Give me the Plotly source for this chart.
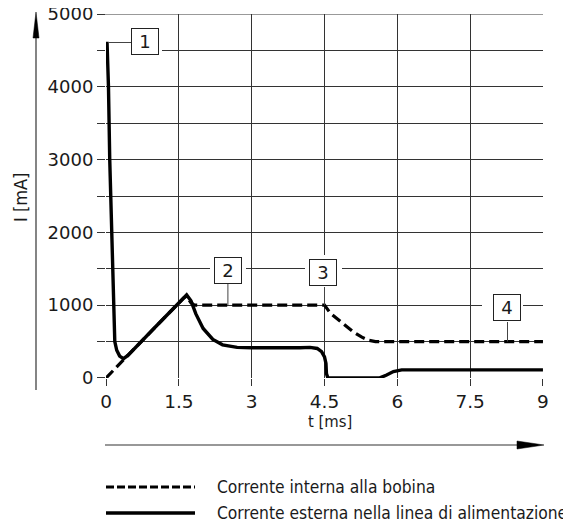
import plotly.graph_objects as go

# ---------------- data ----------------
t_interna = [0, 0.4, 1.0, 1.6, 1.66, 1.75, 1.82, 4.5, 4.62, 4.8, 4.96, 5.1, 5.27, 5.4, 5.55, 9]
i_interna = [0, 275, 690, 1100, 1125, 1030, 1000, 1000, 890, 790, 705, 630, 560, 520, 500, 500]

t_esterna = [0.02, 0.05, 0.076, 0.1, 0.115, 0.13, 0.145, 0.16, 0.18, 0.22, 0.28, 0.36, 0.45,
             1.0, 1.5, 1.62, 1.66, 1.75, 1.85, 2.0, 2.2, 2.4, 2.7, 3.0, 3.5, 4.0, 4.2, 4.35,
             4.44, 4.5, 4.53, 4.54, 4.57, 5.64, 5.78, 5.92, 6.09, 9]
i_esterna = [4620, 4000, 3000, 2400, 2000, 1500, 1000, 700, 500, 380, 300, 265, 310,
             690, 1030, 1110, 1140, 1060, 880, 680, 530, 455, 420, 415, 412, 415, 420, 405,
             360, 290, 200, 60, 0, 0, 40, 87, 110, 110]

x_ticks = [0, 1.5, 3, 4.5, 6, 7.5, 9]
x_ticktext = ["0", "1.5", "3", "4.5", "6", "7.5", "9"]
y_ticks = [0, 500, 1000, 1500, 2000, 2500, 3000, 3500, 4000, 4500, 5000]
y_ticktext = ["0", "", "1000", "", "2000", "", "3000", "", "4000", "", "5000"]

# callouts: label, box centre (t, I)
callout_labels = ["1", "2", "3", "4"]
callout_box = [(0.80, 4622), (2.51, 1483), (4.47, 1442), (8.25, 962)]

legend_labels = ["Corrente interna alla bobina", "Corrente esterna nella linea di alimentazione"]

# ---------------- geometry helpers ----------------
OFF = 8                      # default page body margin
W, H = 571 - OFF, 523 - OFF  # figure size
# plot area in window pixels: x 106..543, y 14..378
PX0, PX1, PY0, PY1 = 106, 543, 14, 378
L, R = PX0 - OFF, W - (PX1 - OFF)
T, B = PY0 - OFF, H - (PY1 - OFF)
PW, PH = PX1 - PX0, PY1 - PY0
XMIN, XMAX = -0.001, 9.001
YMIN, YMAX = -1.0, 5001.0


def px2x(px):
    return XMIN + (px - PX0) / PW * (XMAX - XMIN)


def py2y(py):
    return YMIN + (PY1 - py) / PH * (YMAX - YMIN)


def ppx(px):
    return (px - PX0) / PW


def ppy(py):
    return (PY1 - py) / PH


GRID = "#333333"
TXT_FONT = "DejaVu Sans Condensed, DejaVu Sans, sans-serif"
TICK_FONT = "DejaVu Sans, sans-serif"
TXT_COL = "#1a1a1a"

fig = go.Figure()
fig.add_trace(go.Scatter(x=t_interna, y=i_interna, mode="lines", name=legend_labels[0],
                         line=dict(color="black", width=3.2, dash="10px,5px"),
                         showlegend=False, hoverinfo="skip"))
fig.add_trace(go.Scatter(x=t_esterna, y=i_esterna, mode="lines", name=legend_labels[1],
                         line=dict(color="black", width=3.4),
                         showlegend=False, hoverinfo="skip"))

shapes = []
annotations = []

# white gaps behind callout boxes (interrupt grid lines)
gap_rects_px = [(109, 26, 162, 57), (210, 252, 246, 288), (305, 255, 342, 291), (482, 290, 523, 326)]
for (x0, y0, x1, y1) in gap_rects_px:
    shapes.append(dict(type="rect", xref="x", yref="y", x0=px2x(x0), x1=px2x(x1),
                       y0=py2y(y1), y1=py2y(y0), fillcolor="white",
                       line=dict(width=0), layer="between"))

# top border line at 5000 (grey, as in the reference)
shapes.append(dict(type="line", xref="paper", yref="y", x0=ppx(98), x1=1, y0=5000, y1=5000,
                   line=dict(color="#777777", width=1.5), layer="between"))

# leader lines
leaders = [
    (px2x(108), py2y(42.5), px2x(131), py2y(42.5)),
    (2.51, py2y(284), 2.51, 1000),
    (4.5, py2y(287), 4.5, 1000),
    (8.27, py2y(322), 8.27, 500),
]
for (x0, y0, x1, y1) in leaders:
    shapes.append(dict(type="line", xref="x", yref="y", x0=x0, y0=y0, x1=x1, y1=y1,
                       line=dict(color="#444444", width=1), layer="above"))

for lab, (bx, by) in zip(callout_labels, callout_box):
    annotations.append(dict(x=bx, y=by, xref="x", yref="y", text=lab, showarrow=False,
                            font=dict(family=TICK_FONT, size=18, color=TXT_COL),
                            bgcolor="white", bordercolor="#222", borderwidth=1,
                            borderpad=1, width=24, height=23, align="center", valign="middle"))

# y arrow
shapes.append(dict(type="line", xref="paper", yref="paper", x0=ppx(36), x1=ppx(36),
                   y0=ppy(390), y1=ppy(32), line=dict(color="#333", width=1.2)))
shapes.append(dict(type="path", xref="paper", yref="paper",
                   path=f"M {ppx(36)} {ppy(12)} L {ppx(33)} {ppy(38)} L {ppx(39)} {ppy(38)} Z",
                   fillcolor="black", line=dict(color="black", width=0.5)))
# x arrow
shapes.append(dict(type="line", xref="paper", yref="paper", x0=ppx(105), x1=ppx(520),
                   y0=ppy(445), y1=ppy(445), line=dict(color="#333", width=1.2)))
shapes.append(dict(type="path", xref="paper", yref="paper",
                   path=f"M {ppx(544)} {ppy(445)} L {ppx(517)} {ppy(441)} L {ppx(517)} {ppy(449)} Z",
                   fillcolor="black", line=dict(color="black", width=0.5)))

# legend (drawn)
shapes.append(dict(type="line", xref="paper", yref="paper", x0=ppx(106), x1=ppx(195),
                   y0=ppy(487), y1=ppy(487), line=dict(color="black", width=3, dash="8px,3px")))
shapes.append(dict(type="line", xref="paper", yref="paper", x0=ppx(106), x1=ppx(195),
                   y0=ppy(513), y1=ppy(513), line=dict(color="black", width=3.4)))
for lab, py in zip(legend_labels, [487, 513]):
    annotations.append(dict(x=ppx(215), y=ppy(py), xref="paper", yref="paper", text=lab,
                            showarrow=False, xanchor="left", yanchor="middle",
                            font=dict(family=TXT_FONT, size=17.3, color=TXT_COL)))

# axis titles
annotations.append(dict(x=ppx(330), y=ppy(421), xref="paper", yref="paper", text="t [ms]",
                        showarrow=False, xanchor="center", yanchor="middle",
                        font=dict(family=TXT_FONT, size=16.5, color=TXT_COL)))
annotations.append(dict(x=ppx(20), y=ppy(198), xref="paper", yref="paper", text="I [mA]",
                        showarrow=False, xanchor="center", yanchor="middle", textangle=-90,
                        font=dict(family=TXT_FONT, size=18, color=TXT_COL)))

fig.update_layout(
    width=W, height=H,
    margin=dict(l=L, r=R, t=T, b=B, pad=0, autoexpand=False),
    paper_bgcolor="white", plot_bgcolor="white",
    shapes=shapes, annotations=annotations,
    showlegend=False,
    xaxis=dict(range=[XMIN, XMAX], tickvals=x_ticks, ticktext=x_ticktext,
               showgrid=True, gridcolor=GRID, gridwidth=1,
               zeroline=False, showline=False, automargin=False,
               ticks="outside", ticklen=7, tickcolor=GRID, tickwidth=1,
               ticklabeloverflow="allow",
               tickfont=dict(family=TICK_FONT, size=18.5, color=TXT_COL), fixedrange=True),
    yaxis=dict(range=[YMIN, YMAX], tickvals=y_ticks, ticktext=y_ticktext,
               showgrid=True, gridcolor=GRID, gridwidth=1,
               zeroline=False, showline=False, automargin=False,
               ticks="outside", ticklen=8, tickcolor=GRID, tickwidth=1,
               ticklabeloverflow="allow",
               tickfont=dict(family=TICK_FONT, size=18, color=TXT_COL), fixedrange=True),
)

fig.write_html("out.html", config={"displayModeBar": False})
